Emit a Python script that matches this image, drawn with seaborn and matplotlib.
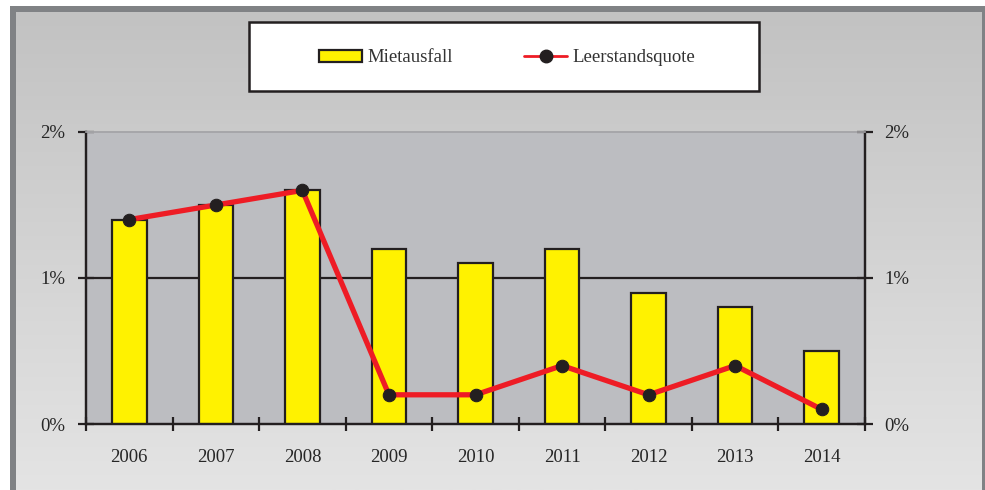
import numpy as np
import pandas as pd
import seaborn as sns
import matplotlib.pyplot as plt
from matplotlib.colors import LinearSegmentedColormap
from matplotlib.patches import Rectangle, Patch
from matplotlib.lines import Line2D

# Daten
JAHRE = ["2006", "2007", "2008", "2009", "2010", "2011", "2012", "2013", "2014"]
MIETAUSFALL = [1.4, 1.5, 1.6, 1.2, 1.1, 1.2, 0.9, 0.8, 0.5]
LEERSTAND = [1.4, 1.5, 1.6, 0.2, 0.2, 0.4, 0.2, 0.4, 0.1]
Y_TICKS = [0, 1, 2]
Y_LABELS = ["0%", "1%", "2%"]

GELB = "#fff200"
ROT = "#ee1c25"
DUNKEL = "#231f20"

sns.set_theme(style="white")
plt.rcParams['font.family'] = ['Liberation Serif', 'DejaVu Serif']
plt.rcParams['text.color'] = "#333333"

W, H = 985, 490
fig = plt.figure(figsize=(W / 100, H / 100), dpi=100, facecolor="white")

# Hintergrund mit Verlauf
bg = fig.add_axes([16 / W, 0, (982 - 16) / W, (H - 12) / H], zorder=0)
grad = np.linspace(0, 1, 256).reshape(-1, 1)
bg.imshow(grad, aspect="auto", cmap=LinearSegmentedColormap.from_list("bg", ["#c2c2c2", "#e4e4e4"]),
          extent=[0, 1, 0, 1], origin="upper")
bg.set_axis_off()

# Rahmen
rahmen = dict(transform=fig.transFigure, facecolor="#808285", edgecolor="none", zorder=1)
fig.patches.append(Rectangle((10 / W, 0), 6 / W, (H - 6) / H, **rahmen))
fig.patches.append(Rectangle((10 / W, (H - 12) / H), (985 - 10) / W, 6 / H, **rahmen))
fig.patches.append(Rectangle((982 / W, 0), 3 / W, (H - 6) / H, **rahmen))

# Diagramm
ax = fig.add_axes([86 / W, (H - 424) / H, (865 - 86) / W, (424 - 132) / H], zorder=2)
ax.set_facecolor("#bcbdc1")

df = pd.DataFrame({"Jahr": JAHRE, "Mietausfall": MIETAUSFALL, "Leerstand": LEERSTAND})
sns.barplot(data=df, x="Jahr", y="Mietausfall", color=GELB, saturation=1,
            edgecolor=DUNKEL, linewidth=1.6, width=0.4, ax=ax, zorder=3)

ax.axhline(1, color=DUNKEL, linewidth=1.6, zorder=2)

ax2 = ax.twinx()
sns.lineplot(x=np.arange(len(JAHRE)), y=LEERSTAND, color=ROT, linewidth=3.8, marker="o",
             markersize=9, markerfacecolor=DUNKEL, markeredgecolor=DUNKEL, ax=ax2, zorder=4)

for a in (ax, ax2):
    a.set_xlim(-0.5, len(JAHRE) - 0.5)
    a.set_ylim(0, 2)
    a.set_ylabel("")
    a.set_xlabel("")
    a.spines["top"].set_color("#a6a6aa")
    a.spines["top"].set_linewidth(1.2)
    for s in ("left", "right", "bottom"):
        a.spines[s].set_color(DUNKEL)
        a.spines[s].set_linewidth(1.6)

ax.set_xticks(range(len(JAHRE)))
ax.set_xticklabels(JAHRE, fontsize=13.5)
ax.set_xticks(np.arange(-0.5, len(JAHRE)), minor=True)
ax.tick_params(axis="x", which="major", length=0, pad=18, labelbottom=True)
ax.tick_params(axis="x", which="minor", length=10, width=1.6, direction="inout", color=DUNKEL, bottom=True)

ax.set_yticks(Y_TICKS)
ax.set_yticklabels(Y_LABELS, fontsize=13.5)
ax.tick_params(axis="y", length=12, width=1.6, direction="inout", color=DUNKEL, pad=9, left=True)
ax2.set_yticks(Y_TICKS)
ax2.set_yticklabels(Y_LABELS, fontsize=13.5)
ax2.tick_params(axis="y", length=12, width=1.6, direction="inout", color=DUNKEL, pad=8, right=True)

# Legende
fig.patches.append(Rectangle((249 / W, (H - 91) / H), 510 / W, 69 / H, transform=fig.transFigure,
                             facecolor="white", edgecolor=DUNKEL, linewidth=1.8, zorder=3))
handles = [Patch(facecolor=GELB, edgecolor=DUNKEL, linewidth=1.6, label="Mietausfall"),
           Line2D([], [], color=ROT, linewidth=2, marker="o", markersize=9,
                  markerfacecolor=DUNKEL, markeredgecolor=DUNKEL, label="Leerstandsquote")]
leg = fig.legend(handles=handles, loc="center", bbox_to_anchor=(507 / W, 1 - 58 / H),
                 ncol=2, frameon=False, fontsize=13.5, handlelength=2.3, handleheight=0.6,
                 handletextpad=0.3, columnspacing=3.8)
leg.set_zorder(5)

fig.savefig("out.png", dpi=100, facecolor="white")
